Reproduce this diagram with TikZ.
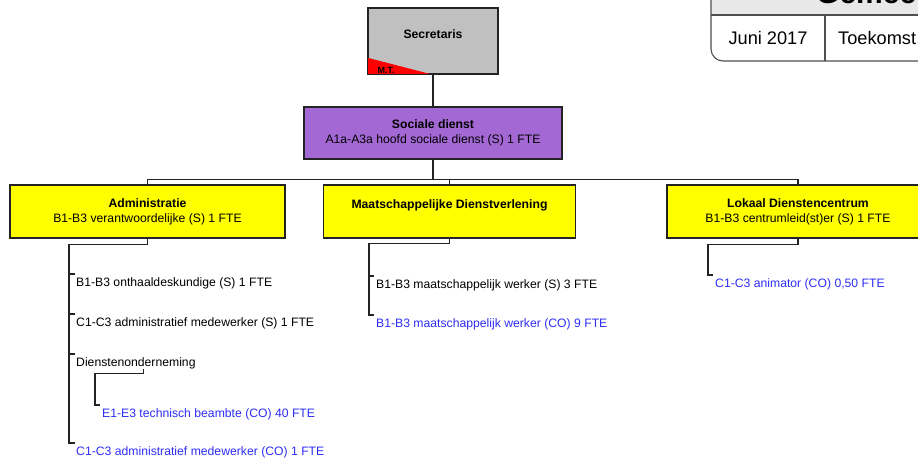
\documentclass[tikz,border=0pt]{standalone}
\usepackage{fontspec}
\setmainfont{Liberation Sans}
\usetikzlibrary{calc}
\definecolor{secgrey}{RGB}{192,192,192}
\definecolor{mtred}{RGB}{255,0,0}
\definecolor{socpurple}{RGB}{163,104,211}
\definecolor{unityellow}{RGB}{255,255,0}
\definecolor{cobl}{RGB}{45,45,245}
\definecolor{hdrgrey}{RGB}{232,232,232}
\definecolor{inkgrey}{RGB}{35,35,35}

\begin{document}
\begin{tikzpicture}[x=1pt,y=-1pt,
  orgbox/.style={draw=inkgrey,line width=1.4pt,align=center,inner sep=0pt,
    font=\fontsize{12.2}{15}\selectfont},
  staff/.style={anchor=north west,inner sep=0pt,text height=12pt,text depth=3pt,
    font=\fontsize{12.2}{15}\selectfont},
  contract/.style={staff,text=cobl},
  wire/.style={draw=inkgrey,line width=1.2pt},
  hdrline/.style={draw=inkgrey!80,line width=1.1pt}
]
\useasboundingbox (0,0) rectangle (918,464);
\clip (0,0) rectangle (918,464);

% header block in the top right corner
\fill[hdrgrey] (711,-10) rectangle (930,15);
\node[anchor=base west,inner sep=0pt,font=\fontsize{30}{34}\bfseries\selectfont] (hdrtitle) at (816,3) {Gemeente};
\draw[hdrline,rounded corners=12pt] (711,-10) |- (930,61);
\draw[hdrline] (711,15) -- (930,15);
\draw[hdrline] (825,15) -- (825,61);
\node[anchor=base,inner sep=0pt,font=\fontsize{18.2}{20}\selectfont] (hdrdate) at (768,44) {Juni 2017};
\node[anchor=base west,inner sep=0pt,font=\fontsize{18.2}{20}\selectfont] (hdrsub) at (838,44) {Toekomst};

% secretaris with the M.T. corner
\node[orgbox,fill=secgrey,minimum width=130,minimum height=66] (sec) at (433,41) {};
\fill[mtred] (sec.south west) -- ++(0,-17) -- (sec.south) -- cycle;
\draw[draw=inkgrey,line width=1.4pt] (sec.south west) rectangle (sec.north east);
\node[inner sep=0pt,font=\fontsize{12.2}{15}\bfseries\selectfont] (sectext) at (433,34) {Secretaris};
\node[inner sep=0pt,font=\fontsize{9}{10}\bfseries\selectfont] (mt) at (386,70) {M.T.};

% head of the department
\node[orgbox,fill=socpurple,minimum width=258,minimum height=52] (soc) at (433,133)
  {\textbf{Sociale dienst}\\A1a-A3a hoofd sociale dienst (S) 1 FTE};

% units
\node[orgbox,fill=unityellow,minimum width=275,minimum height=53] (adm) at (147.5,211.5)
  {\textbf{Administratie}\\B1-B3 verantwoordelijke (S) 1 FTE};
\node[orgbox,fill=unityellow,minimum width=252,minimum height=53] (mds) at (449.5,211.5)
  {\textbf{Maatschappelijke Dienstverlening}\\\phantom{B1}};
\node[orgbox,fill=unityellow,minimum width=262,minimum height=53] (lok) at (798,211.5)
  {\textbf{Lokaal Dienstencentrum}\\B1-B3 centrumleid(st)er (S) 1 FTE};

% staff of Administratie
\node[staff] (a1) at (76,274) {B1-B3 onthaaldeskundige (S) 1 FTE};
\node[staff] (a2) at (76,314) {C1-C3 administratief medewerker (S) 1 FTE};
\node[staff] (a3) at (76,354) {Dienstenonderneming};
\node[contract] (a31) at (102,405) {E1-E3 technisch beambte (CO) 40 FTE};
\node[contract] (a4) at (76,443) {C1-C3 administratief medewerker (CO) 1 FTE};

% staff of Maatschappelijke Dienstverlening
\node[staff] (m1) at (376,276) {B1-B3 maatschappelijk werker (S) 3 FTE};
\node[contract] (m2) at (376,315) {B1-B3 maatschappelijk werker (CO) 9 FTE};

% staff of Lokaal Dienstencentrum
\node[contract] (l1) at (715,275) {C1-C3 animator (CO) 0,50 FTE};

% connectors
\draw[wire] (sec.south) -- (soc.north);
\coordinate (bus) at ($(soc.south)+(0,20)$);
\draw[wire] (soc.south) -- (bus) -| (adm.north);
\draw[wire] (bus) -| (mds.north);
\draw[wire] (bus) -| (lok.north);

\draw[wire] (adm.south) -- ++(0,6) -| ([xshift=-7pt]a4.north west) -- ([xshift=-1pt]a4.north west);
\foreach \c in {a1,a2,a3}
  \draw[wire] ([xshift=-7pt]\c.north west) -- ([xshift=-1pt]\c.north west);
\draw[wire] ([xshift=8pt]a3.south) -- ++(0,4) -| ([xshift=-7pt]a31.north west) -- ([xshift=-2pt]a31.north west);

\draw[wire] (mds.south) -- ++(0,5) -| ([xshift=-7pt]m2.north west) -- ([xshift=-2pt]m2.north west);
\draw[wire] ([xshift=-7pt]m1.north west) -- ([xshift=-2pt]m1.north west);

\draw[wire] (lok.south) -- ++(0,6) -| ([xshift=-7pt]l1.north west) -- ([xshift=-2pt]l1.north west);
\end{tikzpicture}
\end{document}
